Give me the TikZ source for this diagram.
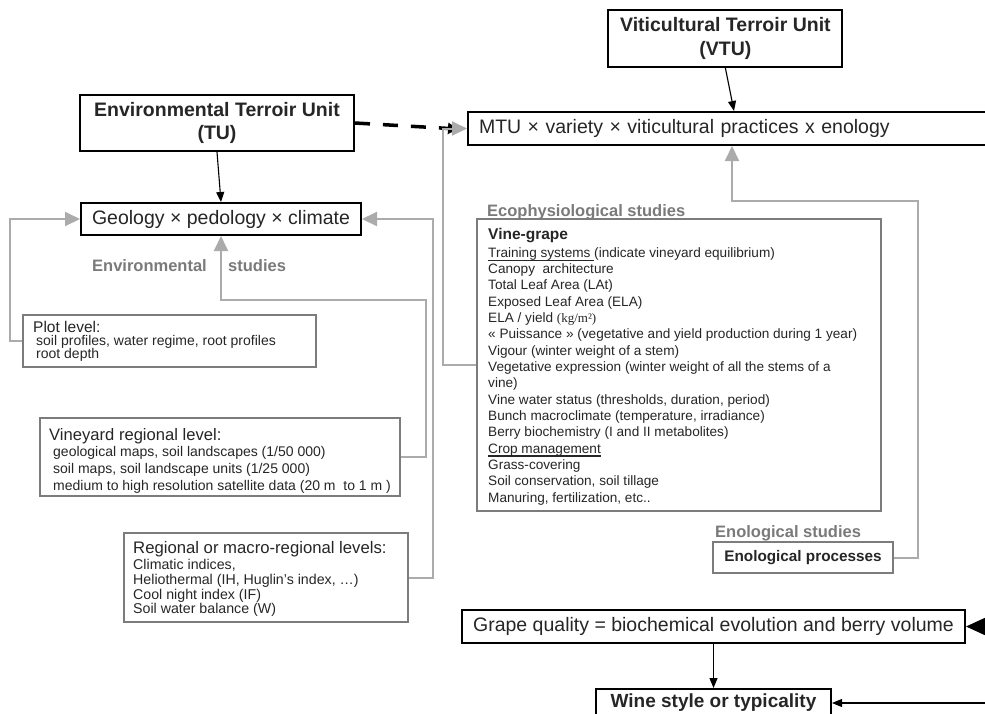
\documentclass[tikz,border=0pt]{standalone}
\usepackage{fontspec}
\setmainfont{Liberation Sans}
\newfontfamily\seriffam{Liberation Serif}
\usetikzlibrary{arrows.meta}
\definecolor{linegray}{HTML}{ABABAB}
\definecolor{boxgray}{HTML}{7C7C7C}
\definecolor{labgray}{HTML}{7A7A7A}
\definecolor{txtcol}{HTML}{262626}
\newcommand\myul[2][1.6pt]{\setbox0\hbox{#2}\rlap{\color{txtcol}\rule[-4.2pt]{\wd0}{#1}}\box0}
\begin{document}
\begin{tikzpicture}[x=1pt,y=-1pt,
  mainbox/.style={draw=black, line width=2pt, inner sep=0pt, text=txtcol},
  studybox/.style={draw=boxgray, line width=1.6pt, inner sep=0pt},
  txt/.style={anchor=north west, inner sep=0pt, align=left, text=txtcol},
  lbl/.style={inner sep=0pt, text=labgray, font=\bfseries\fontsize{16.5}{18}\selectfont},
  glink/.style={draw=linegray, line width=2pt},
  garrow/.style={glink, -{Triangle[length=15pt,width=14pt]}},
  barrow/.style={draw=black, line width=1.1pt, -{Triangle[length=10pt,width=8pt]}},
  bigarrow/.style={draw=black, line width=1.4pt, -{Triangle[length=20pt,width=18pt]}},
  dasharrow/.style={draw=black, line width=3.5pt, dash pattern=on 15pt off 13pt, -{Triangle[length=10pt,width=11pt]}}
]
\useasboundingbox[fill=white] (0,0) rectangle (985,713);

% main boxes
\node[mainbox, minimum width=274pt, minimum height=56pt, align=center,
      font=\bfseries\fontsize{19.5}{23}\selectfont] (tu) at (217,123) {Environmental Terroir Unit\\(TU)};
\node[mainbox, minimum width=234pt, minimum height=57pt, align=center,
      font=\bfseries\fontsize{19.5}{23.5}\selectfont] (vtu) at (725.4,38.5) {Viticultural Terroir Unit\\(VTU)};
\node[mainbox, minimum width=532pt, minimum height=33pt, inner xsep=11pt, text width=510pt, align=left,
      font=\fontsize{19.5}{21}\selectfont] (mtu) at (734,128.5) {MTU × variety × viticultural practices x enology};
\node[mainbox, minimum width=280pt, minimum height=32pt,
      font=\fontsize{19.5}{22}\selectfont] (geo) at (221,219) {Geology × pedology × climate};
\node[mainbox, minimum width=503pt, minimum height=33pt,
      font=\fontsize{19.5}{22}\selectfont] (grape) at (713.5,626.5) {Grape quality = biochemical evolution and berry volume};
\node[mainbox, minimum width=235pt, minimum height=28pt,
      font=\bfseries\fontsize{19}{22}\selectfont] (wine) at (713.5,703) {Wine style or typicality};

% study boxes
\node[studybox, minimum width=293pt, minimum height=52pt] (plot) at (169.5,341) {};
\node[studybox, minimum width=360pt, minimum height=78pt] (vin) at (220,457) {};
\node[studybox, minimum width=284pt, minimum height=89pt] (reg) at (266,577.5) {};
\node[studybox, minimum width=404pt, minimum height=292pt] (eco) at (679,365) {};
\node[studybox, minimum width=180pt, minimum height=31pt, text=txtcol,
      font=\bfseries\fontsize{15.3}{17}\selectfont] (enol) at (803,557.5) {Enological processes};

% texts in study boxes
\node[txt, font=\fontsize{15.5}{17}\selectfont] (plotH) at (33,320.8) {Plot level:};
\node[txt, font=\fontsize{14}{13.5}\selectfont] (plotB) at (36,334.9)
  {soil profiles, water regime, root profiles\\root depth};
\node[txt, font=\fontsize{16.6}{18}\selectfont] (vinH) at (49,428) {Vineyard regional level:};
\node[txt, font=\fontsize{14}{16.7}\selectfont] (vinB) at (53,446.6)
  {geological maps, soil landscapes (1/50 000)\\soil maps, soil landscape units (1/25 000)\\medium to high resolution satellite data (20 m~ to 1 m )};
\node[txt, font=\fontsize{16.7}{18}\selectfont] (regH) at (133,541.3) {Regional or macro-regional levels:};
\node[txt, font=\fontsize{14.2}{14.7}\selectfont] (regB) at (133,559.1)
  {Climatic indices,\\Heliothermal (IH, Huglin's index, …)\\Cool night index (IF)\\Soil water balance (W)};
\node[txt, font=\bfseries\fontsize{15.5}{17}\selectfont] (ecoH) at (488,228.3) {Vine-grape};
\node[txt, font=\fontsize{13.6}{16.33}\selectfont] (ecoB) at (488,247.2)
  {\myul{Training systems }(indicate vineyard equilibrium)\\
   Canopy~ architecture\\
   Total Leaf Area (LAt)\\
   Exposed Leaf Area (ELA)\\
   ELA / yield {\seriffam\fontsize{13}{13}\selectfont (kg/m²)}\\
   « Puissance » (vegetative and yield production during 1 year)\\
   Vigour (winter weight of a stem)\\
   Vegetative expression (winter weight of all the stems of a\\
   vine)\\
   Vine water status (thresholds, duration, period)\\
   Bunch macroclimate (temperature, irradiance)\\
   Berry biochemistry (I and II metabolites)\\
   \myul[2.2pt]{Crop management}\\
   Grass-covering\\
   Soil conservation, soil tillage\\
   Manuring, fertilization, etc..};

% gray labels
\node[lbl, anchor=base east] (envA) at (207,271) {Environmental};
\node[lbl, anchor=base west] (envB) at (228,271) {studies};
\node[lbl, anchor=base west] (ecoL) at (487,216) {Ecophysiological studies};
\node[lbl, anchor=base west] (enolL) at (715,537.3) {Enological studies};

% free ends at the right border
\coordinate (rgrape) at (985,626.5);
\coordinate (rwine) at (985,703);
\coordinate (dashend) at (458,129);

% black connectors
\draw[barrow] (tu.south) -- (geo.north);
\draw[barrow] (vtu.south) -- (mtu.north);
\draw[barrow] (grape.south) -- (wine.north);
\draw[bigarrow] (rgrape) -- (grape.east);
\draw[barrow] (rwine) -- (wine.east);
\draw[dasharrow] (tu.east) -- (dashend);

% gray connectors
\draw[garrow] (plot.west) -- (10,341) |- (geo.west);
\draw[garrow] (vin.east) -- (426,457) |- (221,300) -- (geo.south);
\draw[garrow] (reg.east) -- (433,577.5) |- (geo.east);
\draw[garrow] (eco.west) -- (443,365) |- (mtu.west);
\draw[garrow] (enol.east) -- (918,557.5) |- (732,201) -- ([xshift=-2pt]mtu.south);
\end{tikzpicture}
\end{document}
